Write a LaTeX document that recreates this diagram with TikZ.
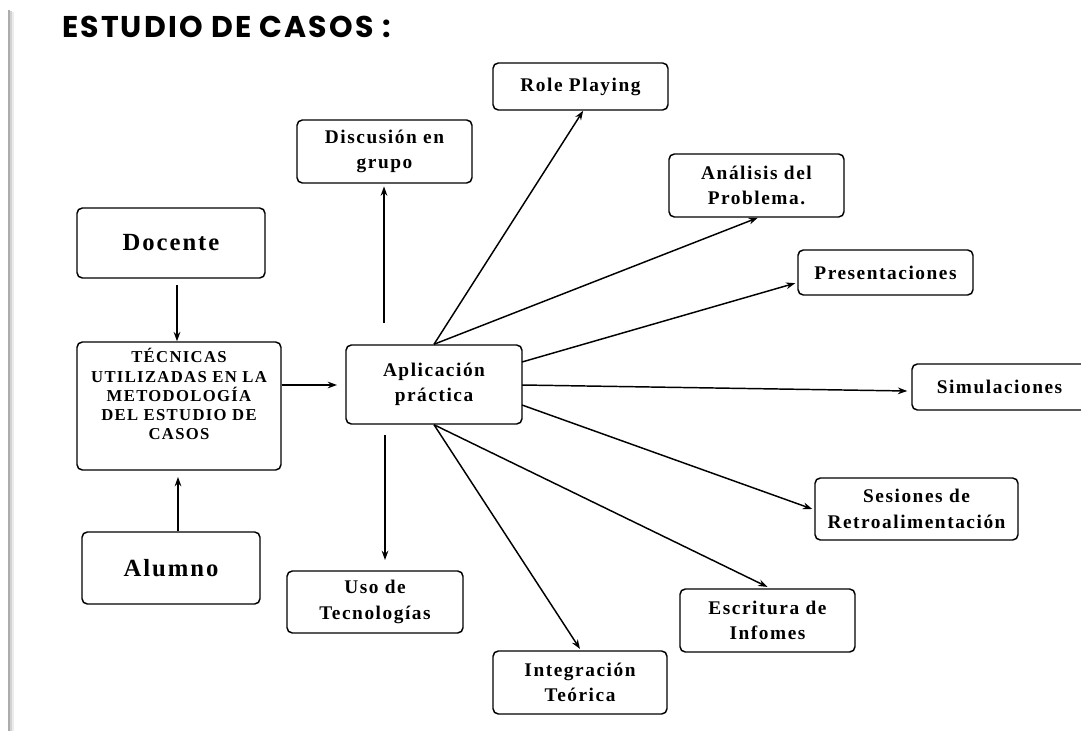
\documentclass[tikz,border=0pt]{standalone}
\usepackage{fontspec}
\usetikzlibrary{arrows.meta}
\newfontfamily\boxfont{Liberation Serif}[LetterSpace=8]
\newfontfamily\titlefont{Poppins}[LetterSpace=7]
\begin{document}
\begin{tikzpicture}[x=0.75pt,y=-0.75pt,
  box/.style={draw, line width=1.1pt, rounded corners=4pt, align=center, inner sep=0pt,
    font={\boxfont\bfseries\fontsize{14.5pt}{19pt}\selectfont}, text=black},
  bigbox/.style={box, font={\boxfont\bfseries\fontsize{18.5pt}{21pt}\selectfont}},
  smalltext/.style={align=center, inner sep=0pt, font={\boxfont\bfseries\fontsize{12.5pt}{14.3pt}\selectfont}},
  arr/.style={-{Stealth[length=7pt,width=5pt]}, line width=1.1pt}]
\useasboundingbox (0,0) rectangle (1081,731);
\fill[white] (0,0) rectangle (1081,731);
% left border with shadow
\draw[gray!15, line width=2pt] (13,12) -- (13,731);
\draw[gray!35, line width=2pt] (11,11) -- (11,731);
\draw[gray!65, line width=1.6pt] (9,10) -- (9,731);
% title
\node[anchor=west, inner sep=0pt, font={\titlefont\bfseries\fontsize{22.5pt}{26pt}\selectfont}] (title) at (62,27) {ESTUDIO DE CASOS :};
% boxes
\node[bigbox, minimum width=141pt, minimum height=52.5pt] (doc) at (171,243) {Docente};
\node[draw, line width=1.1pt, rounded corners=4pt, inner sep=0pt, minimum width=153pt, minimum height=96pt] (tec) at (179,406) {};
\node[smalltext] (tect) at (179,394) {TÉCNICAS\\UTILIZADAS EN LA\\METODOLOGÍA\\DEL ESTUDIO DE\\CASOS};
\node[bigbox, minimum width=133.5pt, minimum height=54pt] (alu) at (171,568) {Alumno};
\node[box, minimum width=132pt, minimum height=59.25pt] (apl) at (434,384.5) {Aplicación\\práctica};
\node[box, minimum width=131.25pt, minimum height=47.25pt] (dis) at (384.5,151.5) {Discusión en\\grupo};
\node[box, minimum width=131.25pt, minimum height=35.25pt] (rol) at (580.5,86.5) {Role Playing};
\node[box, minimum width=131.25pt, minimum height=47.25pt] (ana) at (756.5,185.5) {Análisis del\\Problema.};
\node[box, minimum width=131.25pt, minimum height=33.75pt] (pre) at (885.5,272.5) {Presentaciones};
\node[box, minimum width=131.25pt, minimum height=34.5pt] (sim) at (999.5,387) {Simulaciones};
\node[box, minimum width=152.25pt, minimum height=46.5pt] (ses) at (916.5,509) {Sesiones de\\Retroalimentación};
\node[box, minimum width=131.25pt, minimum height=47.25pt] (esc) at (767.5,620.5) {Escritura de\\Infomes};
\node[box, minimum width=130.5pt, minimum height=47.25pt] (int) at (580,682.5) {Integración\\Teórica};
\node[box, minimum width=132pt, minimum height=46.5pt] (uso) at (375,602) {Uso de\\Tecnologías};
% helper coordinates
\coordinate (d1) at (177,285);
\coordinate (a1) at (178,477);
\coordinate (t1) at (337,385);
\coordinate (p1) at (384,323);
\coordinate (p2) at (385,435);
\coordinate (u1) at (385,560);
\coordinate (r1) at (522,362);
\coordinate (r2) at (522,385);
\coordinate (r3) at (522,405);
% connectors
\draw[arr] (d1) -- (d1 |- tec.north);
\draw[arr] (a1 |- alu.north) -- (a1);
\draw[arr] (t1 -| tec.east) -- (t1);
\draw[arr] (p1) -- ([yshift=-2pt]p1 |- dis.south);
\draw[arr] (p2) -- (u1);
\draw[arr] (apl.north) -- ([xshift=2pt]rol.south);
\draw[arr] (apl.north) -- ([xshift=1pt]ana.south);
\draw[arr] (r1) -- ([xshift=-1.5pt,yshift=-8pt]pre.west);
\draw[arr] (r2) -- ([xshift=-3pt,yshift=-3pt]sim.west);
\draw[arr] (r3) -- ([xshift=-1.5pt]ses.west);
\draw[arr] (apl.south) -- ([yshift=1pt]esc.north);
\draw[arr] (apl.south) -- ([yshift=1pt]int.north);
\end{tikzpicture}
\end{document}
